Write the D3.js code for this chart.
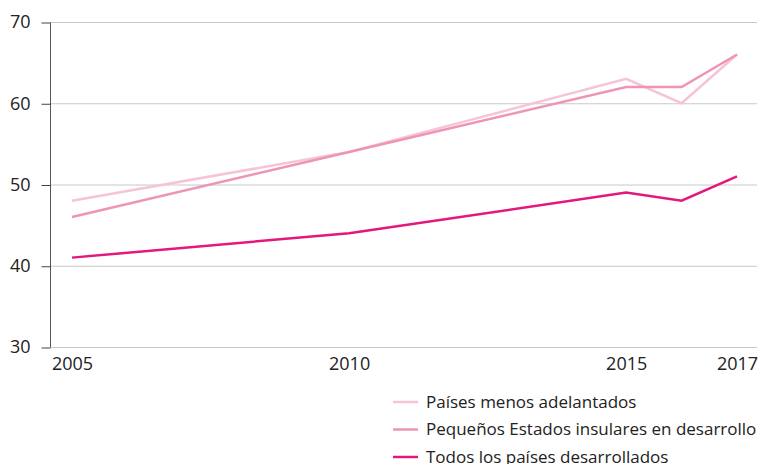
<!DOCTYPE html>
<html>
<head>
<meta charset="utf-8">
<script src="https://cdn.jsdelivr.net/npm/d3@7"></script>
<style>
  body { margin: 0; background: #fff; }
  text { font-family: "Open Sans", "Noto Sans", sans-serif; fill: #222; }
</style>
</head>
<body>
<svg width="772" height="464"></svg>
<script>
var svg = d3.select("svg");

var years = [2005, 2010, 2015, 2016, 2017];
var tickYears = [2005, 2010, 2015, 2017];
var yTicks = [30, 40, 50, 60, 70];

var seriesNames = ["Países menos adelantados", "Pequeños Estados insulares en desarrollo", "Todos los países desarrollados"];
var ldc = [48, 54, 63, 60, 66];
var sids = [46, 54, 62, 62, 66];
var allDev = [41, 44, 49, 48, 51];
var colors = ["#f6c4d7", "#ee94b8", "#e2187d"];

var series = [ldc, sids, allDev];

var x = d3.scaleLinear().domain([2005, 2017]).range([72, 737]);
var y = d3.scaleLinear().domain([30, 70]).range([347, 22]);

// gridlines
svg.append("g")
  .selectAll("line")
  .data(yTicks)
  .enter()
  .append("line")
  .attr("x1", 50)
  .attr("x2", 757)
  .attr("y1", d => y(d) + 0.5)
  .attr("y2", d => y(d) + 0.5)
  .attr("stroke", "#c8c8c8")
  .attr("stroke-width", 1);

// y axis
var yAxis = svg.append("g")
  .attr("transform", "translate(50.5,0.5)")
  .call(d3.axisLeft(y).tickValues(yTicks).tickSize(9).tickPadding(11).tickFormat(d3.format("d")));
yAxis.select(".domain").attr("stroke", "#555").attr("d", "M0," + y(70) + "V" + y(30));
yAxis.selectAll(".tick line").attr("stroke", "#444");
yAxis.selectAll("text").style("font-size", "18px").attr("fill", "#222").attr("dy", "0.3em");

// x axis labels
var xAxis = svg.append("g")
  .attr("transform", "translate(0," + (y(30) + 1) + ")")
  .call(d3.axisBottom(x).tickValues(tickYears).tickSize(0).tickPadding(9).tickFormat(d3.format("d")));
xAxis.select(".domain").remove();
xAxis.selectAll("text").style("font-size", "18px").attr("fill", "#222");

// lines
var line = d3.line()
  .x((d, i) => x(years[i]))
  .y(d => y(d));

svg.append("g")
  .selectAll("path")
  .data(series)
  .enter()
  .append("path")
  .attr("d", line)
  .attr("fill", "none")
  .attr("stroke", (d, i) => colors[i])
  .attr("stroke-width", 2.5)
  .attr("stroke-linejoin", "miter");

// legend
var legend = svg.append("g")
  .selectAll("g")
  .data(seriesNames)
  .enter()
  .append("g")
  .attr("transform", (d, i) => "translate(393," + (402 + i * 27.5) + ")");

legend.append("line")
  .attr("x1", 0)
  .attr("x2", 25)
  .attr("stroke", (d, i) => colors[i])
  .attr("stroke-width", 2.5);

legend.append("text")
  .attr("x", 33)
  .attr("dy", "0.33em")
  .style("font-size", "17px")
  .text(d => d);
</script>
</body>
</html>
